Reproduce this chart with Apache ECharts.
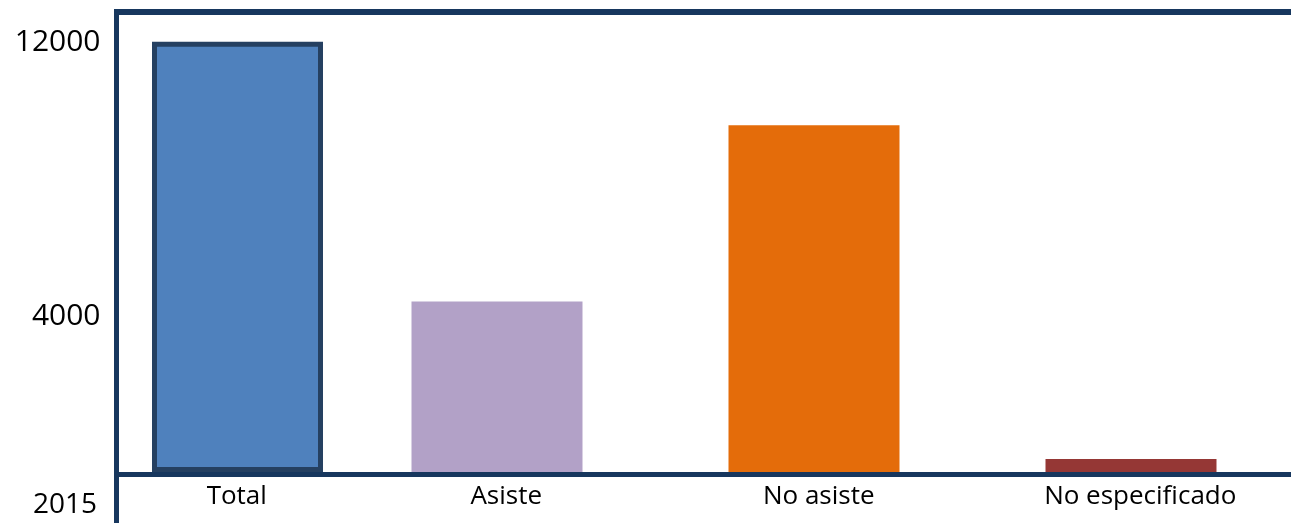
<!DOCTYPE html>
<html>
<head>
<meta charset="utf-8">
<script src="https://cdn.jsdelivr.net/npm/echarts@6/dist/echarts.min.js"></script>
<style>
html,body{margin:0;padding:0;background:#fff;}
#chart{width:1291px;height:523px;}
</style>
</head>
<body>
<div id="chart"></div>
<script>
const categories = ['Total', 'Asiste', 'No asiste', 'No especificado'];
const values = [12010, 4760, 9680, 360];
const yTicks = [4000, 12000];
const yearLabel = '2015';

const barColors = ['#4f81bd', '#b2a1c7', '#e46c0a', '#953735'];
const navy = '#17375e';
const FONT = 'Open Sans';

const chart = echarts.init(document.getElementById('chart'));

const hiddenAxis = { show: false };
const lineOnly = (w) => ({
  axisLine: { show: true, onZero: false, lineStyle: { color: navy, width: w, cap: 'butt' } },
  axisTick: { show: false }, axisLabel: { show: false }, splitLine: { show: false }
});

const option = {
  animation: false,
  backgroundColor: '#ffffff',
  title: {
    text: yearLabel, left: 33, top: 491, padding: 0,
    textStyle: { fontFamily: FONT, fontSize: 28, fontWeight: 'normal', color: '#000' }
  },
  grid: [
    { left: 50.25, right: -27.25, top: 42, bottom: 51, outerBoundsMode: 'none', containLabel: false },
    { left: 116.5, right: -10, top: 42, bottom: 51, outerBoundsMode: 'none', containLabel: false },
    { left: 114, right: -10, top: 12, bottom: 0, outerBoundsMode: 'none', containLabel: false },
    { left: 116.5, right: -10, top: 12, bottom: 0, outerBoundsMode: 'none', containLabel: false }
  ],
  xAxis: [
    {
      gridIndex: 0, type: 'category', data: categories,
      axisLine: { show: false }, axisTick: { show: false }, splitLine: { show: false },
      axisLabel: {
        interval: 0, margin: 12, color: '#000', fontFamily: FONT, fontSize: 26,
        formatter: (v, i) => '{r' + i + '|' + v + '}',
        rich: {
          r0: { padding: [0, 0, 0, 56], fontFamily: FONT, fontSize: 26, color: '#000' },
          r1: { padding: [0, 39, 0, 0], fontFamily: FONT, fontSize: 26, color: '#000' },
          r2: { padding: [0, 48, 0, 0], fontFamily: FONT, fontSize: 26, color: '#000' },
          r3: { padding: [0, 39, 0, 0], fontFamily: FONT, fontSize: 26, color: '#000' }
        }
      }
    },
    Object.assign({ gridIndex: 1, type: 'value', min: 0, max: 1, position: 'bottom', offset: 2.5 }, lineOnly(5)),
    Object.assign({ gridIndex: 2, type: 'value', min: 0, max: 1, position: 'top' }, lineOnly(6)),
    Object.assign({ gridIndex: 3, type: 'value', min: 0, max: 1 }, hiddenAxis)
  ],
  yAxis: [
    { gridIndex: 0, type: 'value', min: 0, max: 12000, show: false },
    {
      gridIndex: 1, type: 'value', min: 0, max: 12000,
      axisLine: { show: false }, axisTick: { show: false }, splitLine: { show: false },
      axisLabel: {
        customValues: yTicks, margin: 16, color: '#000', fontFamily: FONT, fontSize: 30,
        formatter: (v) => (v === 4000 ? '{b|' + v + '}' : '{a|' + v + '}'),
        rich: {
          a: { fontFamily: FONT, fontSize: 30, color: '#000' },
          b: { fontFamily: FONT, fontSize: 30, color: '#000', padding: [0, 0, 25, 0] }
        }
      }
    },
    Object.assign({ gridIndex: 2, type: 'value', min: 0, max: 1 }, hiddenAxis),
    Object.assign({ gridIndex: 3, type: 'value', min: 0, max: 1, position: 'left' }, lineOnly(5))
  ],
  series: [
    {
      name: 'Desglose', type: 'bar', xAxisIndex: 0, yAxisIndex: 0,
      barWidth: 171, barGap: '-66.37%',
      data: values.map((v, i) => (i === 0 ? '-' : { value: v, itemStyle: { color: barColors[i] } }))
    },
    {
      name: 'Total', type: 'bar', xAxisIndex: 0, yAxisIndex: 0,
      barWidth: 171, barGap: '-66.37%', clip: false,
      itemStyle: { color: barColors[0], borderColor: '#254061', borderWidth: 5 },
      data: values.map((v, i) => (i === 0 ? v : '-'))
    }
  ]
};
chart.setOption(option);
</script>
</body>
</html>
